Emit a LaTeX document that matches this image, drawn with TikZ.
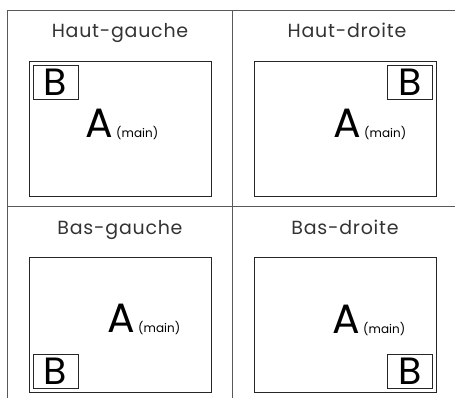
\documentclass[tikz,border=0pt]{standalone}
\usepackage{fontspec}
\setmainfont{Poppins}
\usetikzlibrary{positioning}

\tikzset{
  gridline/.style={draw=black!65, line width=0.8pt},
  screen/.style={draw=black!85, line width=0.7pt, minimum width=182pt, minimum height=135pt, inner sep=0pt},
  pip/.style={draw=black!85, line width=0.7pt, minimum width=45pt, minimum height=34pt, inner sep=0pt, font=\fontsize{38}{38}\selectfont},
  title/.style={anchor=base, text=black!80, font=\fontsize{19}{19}\selectfont\addfontfeatures{LetterSpace=4}, inner sep=0pt},
  mainA/.style={anchor=base west, inner sep=0pt, font=\fontsize{41}{41}\selectfont},
  mainlbl/.style={anchor=base west, inner sep=0pt, xshift=3pt, font=\fontsize{12}{12}\selectfont}
}

\begin{document}
\begin{tikzpicture}[x=1pt,y=1pt]
\useasboundingbox (0,0) rectangle (455,398);

% grid
\draw[gridline] (7,388) -- (455,388);
\draw[gridline] (7,192) -- (455,192);
\draw[gridline] (7,388) -- (7,0);
\draw[gridline] (232,388) -- (232,0);

% Haut-gauche
\node[title] (tl title) at (120,360) {Haut-gauche};
\node[screen] (tl screen) at (120,269.5) {};
\node[pip, anchor=north west] (tl pip) at ([shift={(4,-4)}]tl screen.north west) {B};
\node[mainA] (tl main) at (85,260) {A};
\node[mainlbl] (tl lbl) at (tl main.base east) {(main)};

% Haut-droite
\node[title] (tr title) at (347,360) {Haut-droite};
\node[screen] (tr screen) at (345.5,269.5) {};
\node[pip, anchor=north east] (tr pip) at ([shift={(-4,-4)}]tr screen.north east) {B};
\node[mainA] (tr main) at (333,260) {A};
\node[mainlbl] (tr lbl) at (tr main.base east) {(main)};

% Bas-gauche
\node[title] (bl title) at (120,163) {Bas-gauche};
\node[screen] (bl screen) at (120,73.5) {};
\node[pip, anchor=south west] (bl pip) at ([shift={(4,4)}]bl screen.south west) {B};
\node[mainA] (bl main) at (107,65) {A};
\node[mainlbl] (bl lbl) at (bl main.base east) {(main)};

% Bas-droite
\node[title] (br title) at (345,163) {Bas-droite};
\node[screen] (br screen) at (345.5,73.5) {};
\node[pip, anchor=south east] (br pip) at ([shift={(-4,4)}]br screen.south east) {B};
\node[mainA] (br main) at (332,64) {A};
\node[mainlbl] (br lbl) at (br main.base east) {(main)};

\end{tikzpicture}
\end{document}
